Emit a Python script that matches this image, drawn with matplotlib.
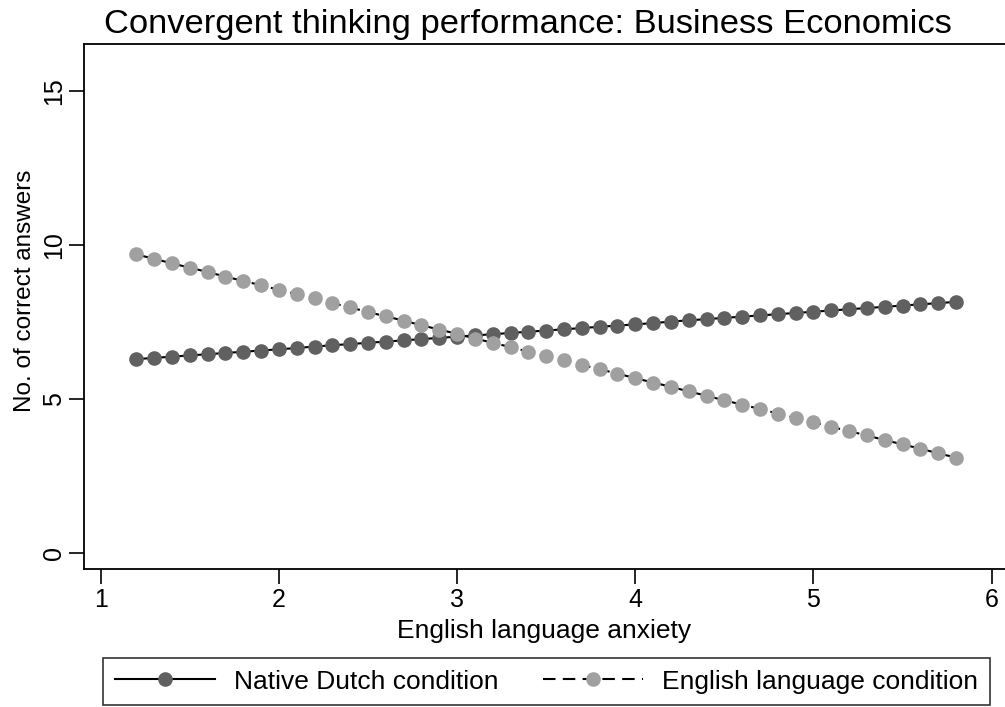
import numpy as np
import matplotlib
matplotlib.use('Agg')
import matplotlib.pyplot as plt
from matplotlib.lines import Line2D

plt.rcParams['font.family'] = ['Liberation Sans', 'DejaVu Sans']

# English language anxiety (x grid of the margins plot)
anxiety = [1.2, 1.3, 1.4, 1.5, 1.6, 1.7, 1.8, 1.9, 2.0, 2.1, 2.2, 2.3,
           2.4, 2.5, 2.6, 2.7, 2.8, 2.9, 3.0, 3.1, 3.2, 3.3, 3.4, 3.5,
           3.6, 3.7, 3.8, 3.9, 4.0, 4.1, 4.2, 4.3, 4.4, 4.5, 4.6, 4.7,
           4.8, 4.9, 5.0, 5.1, 5.2, 5.3, 5.4, 5.5, 5.6, 5.7, 5.8]

native_dutch = [6.29, 6.33, 6.37, 6.41, 6.45, 6.49, 6.53, 6.57, 6.61, 6.65,
                6.70, 6.74, 6.78, 6.82, 6.86, 6.90, 6.94, 6.98, 7.02, 7.06,
                7.10, 7.14, 7.18, 7.22, 7.26, 7.30, 7.34, 7.38, 7.42, 7.46,
                7.51, 7.55, 7.59, 7.63, 7.67, 7.71, 7.75, 7.79, 7.83, 7.87,
                7.91, 7.95, 7.99, 8.03, 8.07, 8.11, 8.15]

english_cond = [9.69, 9.55, 9.40, 9.26, 9.12, 8.97, 8.83, 8.69, 8.54, 8.40,
                8.26, 8.11, 7.97, 7.82, 7.68, 7.54, 7.39, 7.25, 7.11, 6.96,
                6.82, 6.68, 6.53, 6.39, 6.25, 6.10, 5.96, 5.82, 5.67, 5.53,
                5.39, 5.24, 5.10, 4.95, 4.81, 4.67, 4.52, 4.38, 4.24, 4.09,
                3.95, 3.81, 3.66, 3.52, 3.38, 3.23, 3.09]

xticks = [1, 2, 3, 4, 5, 6]
yticks = [0, 5, 10, 15]

dark = '#606060'
light = '#a0a0a0'
dash = (0, (6, 3.5))

fig = plt.figure(figsize=(10.05, 7.07), dpi=100)
ax = fig.add_axes([0.0836, 0.1956, 0.9164, 0.7422])

ax.plot(anxiety, native_dutch, color='black', lw=1.5, ls='-', zorder=2)
ax.plot(anxiety, native_dutch, ls='none', marker='o', ms=9.5,
        mfc=dark, mec=dark, zorder=3)
ax.plot(anxiety, english_cond, color='black', lw=1.5, ls=dash, zorder=2)
ax.plot(anxiety, english_cond, ls='none', marker='o', ms=9.5,
        mfc=light, mec=light, zorder=3)

ax.set_xlim(0.906, 6.075)
ax.set_ylim(-0.52, 16.53)
ax.set_xticks(xticks)
ax.set_yticks(yticks)
ax.set_yticklabels([str(v) for v in yticks], rotation=90, va='center')
ax.tick_params(axis='both', length=11, width=1.2, labelsize=18)
ax.tick_params(axis='x', pad=3)
ax.tick_params(axis='y', pad=2)
for s in ['left', 'bottom', 'top']:
    ax.spines[s].set_linewidth(1.3)
ax.spines['right'].set_visible(False)

ax.set_xlabel('English language anxiety', fontsize=19, labelpad=5)
ax.set_ylabel('No. of correct answers', fontsize=17.5)
ax.yaxis.set_label_coords(-0.052, 0.53)
fig.text(0.525, 0.965, 'Convergent thinking performance: Business Economics',
         ha='center', va='center', fontsize=24.8)

handles = [
    Line2D([], [], color='black', lw=1.5, ls='-', marker='o', ms=9.5,
           mfc=dark, mec=dark),
    Line2D([], [], color='black', lw=1.5, ls=dash, marker='o', ms=9.5,
           mfc=light, mec=light),
]
leg = fig.legend(handles, ['Native Dutch condition', 'English language condition'],
                 loc='center', bbox_to_anchor=(0.5438, 0.036),
                 ncol=2, fontsize=19, frameon=True,
                 fancybox=False, edgecolor='black', handlelength=3.8,
                 handletextpad=0.7, columnspacing=1.7, borderpad=0.45,
                 borderaxespad=0)
leg.get_frame().set_linewidth(1.2)

fig.savefig('out.png', dpi=100)
